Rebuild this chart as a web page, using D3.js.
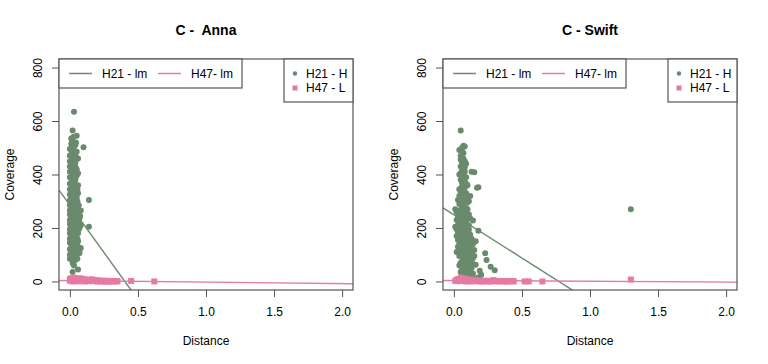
<!DOCTYPE html>
<meta charset="utf-8">
<script src="https://d3js.org/d3.v7.min.js"></script>
<style>
  body { margin: 0; background: #fff; }
  text { font-family: "Liberation Sans", Arial, sans-serif; fill: #000; white-space: pre; }
</style>
<body>
<script>
// panel titles
var titles = ["C -  Anna", "C - Swift"];
var xTicks = [0, 0.5, 1.0, 1.5, 2.0];
var yTicks = [0, 200, 400, 600, 800];
var lineLegend = ["H21 - lm", "H47- lm"];
var pointLegend = ["H21 - H", "H47 - L"];

// regression lines [intercept, slope]
var annaH21Fit = [285, -706];
var annaH47Fit = [3.3, -5.6];
var swiftH21Fit = [249, -323];
var swiftH47Fit = [3.5, -2.9];

// Anna H21 [distance, coverage]
var annaH21 = [
  [0.03,635],[0.02,565],[0.05,545],[0.01,535],[0.02,525],[0.04,510],[0.10,502],[0.0,495],[0.03,490],[0.05,485],
  [0.01,475],[0.04,470],[0.02,460],[0.05,460],[0.0,450],[0.03,445],[0.01,435],[0.04,430],[0.02,420],[0.06,405],
  [0.0,410],[0.03,400],[0.05,395],[0.01,390],[0.04,380],[0.02,375],[0.0,365],[0.03,360],[0.05,355],[0.01,345],
  [0.04,340],[0.02,335],[0.06,330],[0.0,325],[0.03,320],[0.05,315],[0.14,305],[0.01,305],[0.04,300],[0.02,295],
  [0.0,285],[0.03,280],[0.06,275],[0.01,270],[0.04,265],[0.08,265],[0.02,260],[0.0,250],[0.05,250],[0.03,245],
  [0.01,235],[0.07,235],[0.04,230],[0.02,225],[0.0,215],[0.05,215],[0.03,210],[0.14,205],[0.08,210],[0.01,200],
  [0.06,200],[0.04,195],[0.02,190],[0.0,180],[0.05,180],[0.03,175],[0.01,165],[0.04,160],[0.02,155],[0.06,150],
  [0.0,145],[0.03,140],[0.05,135],[0.01,125],[0.08,125],[0.04,120],[0.07,115],[0.02,110],[0.0,100],[0.05,100],
  [0.03,90],[0.01,85],[0.04,80],[0.02,70],[0.03,60],[0.06,45],[0.02,35],
  [0.015,480],[0.035,455],[0.025,415],[0.045,405],[0.015,395],[0.035,370],[0.055,345],[0.015,320],[0.035,290],
  [0.065,285],[0.025,275],[0.045,240],[0.015,250],[0.035,225],[0.065,220],[0.025,205],[0.045,170],[0.015,175],
  [0.035,150],[0.055,160],[0.025,130],[0.045,110],[0.015,105],[0.035,95],[0.055,85],[0.07,105],[0.025,65],
  [0.065,195],[0.075,245],[0.055,300],[0.06,460],[0.045,520],[0.025,540],[0.01,500],[0.03,505],[0.0,470],
  [0.02,440],[0.04,350],[0.01,290],[0.05,270],[0.02,240],[0.04,185],[0.01,140],[0.03,120],[0.06,130],
  [0.0,430],[0.02,485],[0.04,445],[0.0,390],[0.02,400],[0.04,410],[0.0,345],[0.02,355],[0.0,305],[0.02,315],
  [0.04,320],[0.0,265],[0.02,280],[0.0,230],[0.02,245],[0.04,250],[0.0,195],[0.02,210],[0.0,160],[0.02,170],
  [0.04,140],[0.0,120],[0.02,130],[0.0,85],[0.02,95],[0.04,100],[0.06,230],[0.06,260],[0.06,180],[0.07,200],
  [0.06,110],[0.05,120],[0.07,125],[0.06,360],[0.05,420],[0.03,470],[0.01,515],[0.03,380],[0.01,370],[0.05,290]
];

// Anna H47
var annaH47 = [
  [0.0,3],[0.01,12],[0.02,6],[0.03,9],[0.04,2],[0.05,10],[0.06,5],[0.07,1],[0.08,7],[0.09,3],
  [0.10,4],[0.11,0],[0.12,6],[0.13,2],[0.15,3],[0.16,8],[0.17,1],[0.18,5],[0.19,2],[0.20,4],
  [0.21,1],[0.22,3],[0.23,0],[0.24,2],[0.25,1],[0.26,3],[0.27,0],[0.28,1],[0.30,2],[0.31,0],
  [0.32,1],[0.34,0],[0.35,1],[0.02,0],[0.04,8],[0.06,1],[0.00,9],[0.03,14],[0.45,2],[0.62,0],
  [0.14,1],[0.29,0],[0.33,2],[0.11,8],[0.09,10],[0.07,12],[0.05,3],[0.01,5],[0.2,0],[0.26,0]
];

// Swift H21
var swiftH21 = [
  [0.05,565],[0.07,508],[0.08,505],[0.04,492],[0.06,485],[0.05,470],[0.07,460],[0.09,440],[0.06,445],[0.05,430],
  [0.08,425],[0.13,410],[0.15,408],[0.07,415],[0.04,400],[0.06,395],[0.09,390],[0.05,380],[0.08,375],[0.10,360],
  [0.17,350],[0.18,352],[0.06,355],[0.04,345],[0.07,340],[0.09,330],[0.12,320],[0.05,320],[0.08,310],[0.03,305],
  [0.06,300],[0.10,295],[0.04,290],[0.07,285],[0.01,270],[0.09,275],[0.05,265],[0.03,260],[0.08,255],[0.11,250],
  [0.06,245],[0.04,240],[0.02,230],[0.07,230],[0.09,225],[0.14,228],[0.05,220],[0.01,205],[0.03,210],[0.08,205],
  [0.06,200],[0.10,195],[0.18,190],[0.04,190],[0.07,180],[0.12,175],[0.02,170],[0.05,170],[0.09,165],[0.03,155],
  [0.06,160],[0.11,150],[0.16,150],[0.08,145],[0.04,140],[0.13,135],[0.07,130],[0.10,125],[0.05,120],[0.15,118],
  [0.02,110],[0.08,110],[0.12,105],[0.23,105],[0.06,100],[0.10,92],[0.04,95],[0.14,88],[0.07,85],[0.24,80],
  [0.09,75],[0.11,68],[0.05,70],[0.16,62],[0.08,58],[0.27,55],[0.13,50],[0.06,45],[0.19,40],[0.30,42],
  [0.10,35],[0.08,28],[0.20,25],[0.12,18],[0.06,22],[0.15,12],[0.09,8],[0.18,15],
  [0.06,500],[0.05,455],[0.07,400],[0.06,370],[0.08,350],[0.05,335],[0.07,315],[0.06,280],[0.08,270],[0.05,250],
  [0.07,210],[0.06,185],[0.08,190],[0.05,150],[0.07,155],[0.09,135],[0.06,130],[0.08,120],[0.11,115],[0.07,100],
  [0.09,100],[0.12,90],[0.08,80],[0.10,60],[0.07,50],[0.11,40],[0.04,60],[0.03,180],[0.02,260],[0.10,270],
  [0.11,210],[0.13,160],[0.12,80],[0.14,65],[0.04,320],[0.09,300],[0.06,225],[0.11,180],[1.30,270],
  [0.07,480],[0.06,430],[0.08,410],[0.05,405],[0.07,385],[0.09,365],[0.06,335],[0.08,330],[0.10,315],[0.05,300],
  [0.07,260],[0.09,250],[0.03,240],[0.04,265],[0.10,240],[0.06,270],[0.08,235],[0.02,195],[0.04,215],[0.09,205],
  [0.11,195],[0.05,195],[0.03,130],[0.04,170],[0.10,170],[0.07,165],[0.12,150],[0.06,145],[0.09,150],[0.04,115],
  [0.10,140],[0.13,115],[0.05,95],[0.08,95],[0.11,85],[0.06,75],[0.09,60],[0.13,72],[0.05,35],[0.07,30],
  [0.10,15],[0.14,30],[0.12,45],[0.08,42],[0.15,95],[0.14,140],[0.12,235],[0.11,300],[0.08,450],[0.06,415]
];

// Swift H47
var swiftH47 = [
  [0.01,2],[0.02,6],[0.03,1],[0.04,9],[0.05,14],[0.06,4],[0.07,8],[0.08,2],[0.09,5],[0.10,1],
  [0.11,6],[0.12,3],[0.13,0],[0.14,4],[0.15,2],[0.16,5],[0.17,1],[0.18,3],[0.20,2],[0.21,0],
  [0.22,3],[0.24,1],[0.25,2],[0.27,0],[0.29,5],[0.30,1],[0.32,0],[0.34,2],[0.36,0],[0.38,1],
  [0.40,0],[0.42,1],[0.44,0],[0.52,0],[0.55,0],[0.65,0],[1.30,7],[0.06,10],[0.09,0],[0.03,8],
  [0.19,0],[0.23,1],[0.26,0],[0.31,2],[0.35,1],[0.39,0],[0.43,2],[0.13,7],[0.08,11],[0.04,3]
];

var panels = [
  { title: titles[0], h21: annaH21, h47: annaH47, fit21: annaH21Fit, fit47: annaH47Fit },
  { title: titles[1], h21: swiftH21, h47: swiftH47, fit21: swiftH21Fit, fit47: swiftH47Fit }
];

var green = "#6a8a6d", pink = "#e67aa2";
var W = 768, H = 364;
var box = { left: 59, right: 353, top: 59, bottom: 290 };

var svg = d3.select("body").append("svg")
  .attr("width", W)
  .attr("height", H);

var x = d3.scaleLinear().domain([-0.08, 2.08]).range([box.left, box.right]);
var y = d3.scaleLinear().domain([-32, 832]).range([box.bottom, box.top]);

panels.forEach(function (p, i) {
  var g = svg.append("g").attr("transform", "translate(" + (384 * i) + ",0)");

  g.append("clipPath").attr("id", "clip" + i)
    .append("rect")
    .attr("x", box.left).attr("y", box.top)
    .attr("width", box.right - box.left).attr("height", box.bottom - box.top);

  var plot = g.append("g").attr("clip-path", "url(#clip" + i + ")");

  // H21 points
  plot.append("g").selectAll("circle")
    .data(p.h21)
    .enter().append("circle")
    .attr("cx", d => x(d[0]))
    .attr("cy", d => y(d[1]))
    .attr("r", 3)
    .style("fill", green);

  // H47 points
  plot.append("g").selectAll("rect")
    .data(p.h47)
    .enter().append("rect")
    .attr("x", d => x(d[0]) - 3)
    .attr("y", d => y(d[1]) - 3)
    .attr("width", 6)
    .attr("height", 6)
    .style("fill", pink);

  // lm lines
  [[p.fit21, green], [p.fit47, pink]].forEach(function (f) {
    var d0 = x.domain();
    plot.append("line")
      .attr("x1", x(d0[0])).attr("y1", y(f[0][0] + f[0][1] * d0[0]))
      .attr("x2", x(d0[1])).attr("y2", y(f[0][0] + f[0][1] * d0[1]))
      .style("stroke", f[1])
      .style("stroke-width", 1.4);
  });

  // axes
  var ax = g.append("g").attr("transform", "translate(0," + box.bottom + ")")
    .call(d3.axisBottom(x).tickValues(xTicks).tickFormat(d3.format(".1f")).tickSize(7).tickPadding(10));
  var ay = g.append("g").attr("transform", "translate(" + box.left + ",0)")
    .call(d3.axisLeft(y).tickValues(yTicks).tickSize(7));
  [ax, ay].forEach(function (a) {
    a.select(".domain").remove();
    a.selectAll("line").style("stroke", "#555");
    a.selectAll("text").style("font-size", "12px")
      .style("font-family", "'Liberation Sans', Arial, sans-serif").style("fill", "#000");
  });
  ay.selectAll(".tick text")
    .attr("transform", "rotate(-90)")
    .attr("x", 0).attr("y", -21.5).attr("dy", "0.35em")
    .style("text-anchor", "middle");

  // box
  g.append("rect")
    .attr("x", box.left).attr("y", box.top)
    .attr("width", box.right - box.left).attr("height", box.bottom - box.top)
    .style("fill", "none").style("stroke", "#555").style("stroke-width", 1.2);

  // labels
  g.append("text").attr("x", (box.left + box.right) / 2).attr("y", 34.5)
    .attr("text-anchor", "middle").attr("xml:space", "preserve")
    .style("font-size", "14px").style("font-weight", "bold")
    .text(p.title);
  g.append("text").attr("x", (box.left + box.right) / 2).attr("y", 345)
    .attr("text-anchor", "middle").style("font-size", "12px").text("Distance");
  g.append("text").attr("transform", "translate(13.5," + ((box.top + box.bottom) / 2) + ") rotate(-90)")
    .attr("text-anchor", "middle").style("font-size", "12px").text("Coverage");

  // line legend
  var lg = g.append("g");
  lg.append("rect").attr("x", box.left).attr("y", box.top).attr("width", 183).attr("height", 29)
    .style("fill", "#fff").style("stroke", "#555").style("stroke-width", 1.2);
  [[69, 102, green], [158, 191, pink]].forEach(function (o, k) {
    lg.append("path").attr("d", "M" + o[0] + ",73.5H" + (o[0] + 23))
      .style("stroke", o[2]).style("stroke-width", 1.5).style("fill", "none");
    lg.append("text").attr("x", o[1]).attr("y", 77.8).style("font-size", "12px").text(lineLegend[k]);
  });

  // point legend
  var pg = g.append("g");
  pg.append("rect").attr("x", 284).attr("y", box.top).attr("width", box.right - 284).attr("height", 43)
    .style("fill", "#fff").style("stroke", "#555").style("stroke-width", 1.2);
  pg.append("circle").attr("cx", 295).attr("cy", 73.5).attr("r", 2.2).style("fill", green);
  pg.append("rect").attr("x", 292.5).attr("y", 85.5).attr("width", 5).attr("height", 5).style("fill", pink);
  pg.append("text").attr("x", 306).attr("y", 77.8).style("font-size", "12px").text(pointLegend[0]);
  pg.append("text").attr("x", 306).attr("y", 92.2).style("font-size", "12px").text(pointLegend[1]);
});
</script>
</body>
